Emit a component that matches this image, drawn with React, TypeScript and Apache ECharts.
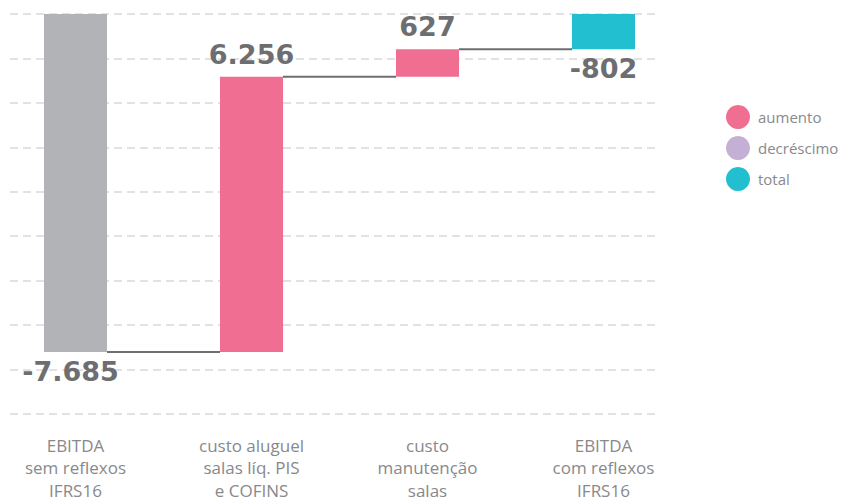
import React, { useEffect, useRef } from 'react';
import * as echarts from 'echarts';

const categories = [
  'EBITDA\nsem reflexos\nIFRS16',
  'custo aluguel\nsalas líq. PIS\ne COFINS',
  'custo\nmanutenção\nsalas',
  'EBITDA\ncom reflexos\nIFRS16',
];
const values = [-7685, 6256, 627, -802];
const kinds = ['base', 'aumento', 'aumento', 'total'];
const legendNames = ['aumento', 'decréscimo', 'total'];
const yMin = -9000;
const yMax = 0;
const yStep = 1000;

const COLORS: Record<string, string> = {
  base: '#b2b3b7',
  aumento: '#f06e91',
  'decréscimo': '#c5b0d5',
  total: '#21bfcf',
};
const TEXT_DARK = '#6d6e71';
const TEXT_LIGHT = '#88898c';
const BAR_W = 63;
const SHIFT = 20; // the chart div starts SHIFT px left of the page

function fmt(v: number) {
  const s = Math.abs(v).toString().replace(/\B(?=(\d{3})+(?!\d))/g, '.');
  return (v < 0 ? '-' : '') + s;
}

let running = 0;
const barData = values.map((v, i) => {
  const kind = kinds[i];
  let start = 0;
  let end = 0;
  if (kind === 'base') {
    start = 0; end = v; running = v;
  } else if (kind === 'total') {
    start = 0; end = running;
  } else {
    start = running; end = running + v; running = end;
  }
  return { value: [i, start, end, v], kind };
});
const connectorData = barData.slice(0, -1).map((d, i) => [i, d.value[2]]);

export default function App() {
  const ref = useRef<HTMLDivElement>(null);
  useEffect(() => {
    const chart = echarts.init(ref.current!, undefined, { renderer: 'svg' });
    const option: any = {
      animation: false,
      grid: [
        { left: 10 + SHIFT, right: 186, top: 14, bottom: 83, outerBoundsMode: 'none', containLabel: false },
        { left: -12.5 + SHIFT, right: 152.5, top: 14, bottom: 87.2, outerBoundsMode: 'none', containLabel: false },
      ],
      xAxis: [
        { gridIndex: 0, type: 'category', data: categories, show: false },
        {
          gridIndex: 1,
          type: 'category',
          data: categories,
          axisLine: { show: false },
          axisTick: { show: false },
          splitLine: { show: false },
          axisLabel: {
            interval: 0,
            margin: 24,
            color: TEXT_LIGHT,
            fontFamily: 'Open Sans',
            fontSize: 17,
            lineHeight: 22.5,
            verticalAlign: 'top',
          },
        },
      ],
      yAxis: [
        {
          gridIndex: 0,
          type: 'value',
          min: yMin,
          max: yMax,
          interval: yStep,
          axisLine: { show: false },
          axisTick: { show: false },
          axisLabel: { show: false },
          splitLine: { show: true, lineStyle: { color: '#e2e2e3', width: 2, type: [8, 5] } },
        },
        {
          gridIndex: 1,
          type: 'value',
          min: yMin,
          max: yMax,
          interval: yStep,
          show: false,
          splitLine: { show: false },
        },
      ],
      series: [
        {
          type: 'custom',
          xAxisIndex: 1,
          yAxisIndex: 1,
          data: connectorData,
          renderItem: (params: any, api: any) => {
            const i = api.value(0);
            const level = api.value(1);
            const a = api.coord([i, level]);
            const b = api.coord([i + 1, level]);
            return {
              type: 'line',
              shape: { x1: a[0] + BAR_W / 2, y1: a[1], x2: b[0] - BAR_W / 2, y2: b[1] },
              style: { stroke: TEXT_DARK, lineWidth: 2 },
            };
          },
        },
        {
          type: 'custom',
          xAxisIndex: 1,
          yAxisIndex: 1,
          data: barData,
          renderItem: (params: any, api: any) => {
            const i = api.value(0);
            const start = api.value(1);
            const end = api.value(2);
            const v = api.value(3);
            const kind = barData[params.dataIndex].kind;
            const pTop = api.coord([i, Math.max(start, end)]);
            const pBot = api.coord([i, Math.min(start, end)]);
            const x = pTop[0] - BAR_W / 2;
            const children: any[] = [
              {
                type: 'rect',
                shape: { x, y: pTop[1], width: BAR_W, height: pBot[1] - pTop[1] },
                style: { fill: COLORS[kind] },
              },
            ];
            const pos = v >= 0;
            children.push({
              type: 'text',
              x: pTop[0] + (kind === 'base' ? -5 : 0),
              y: pos ? pTop[1] - 9 : pBot[1] + 6,
              style: {
                text: fmt(v),
                fill: TEXT_DARK,
                font: 'bold 27px "DejaVu Sans"',
                textAlign: 'center',
                textVerticalAlign: pos ? 'bottom' : 'top',
              },
            });
            return { type: 'group', children };
          },
        },
      ],
      graphic: legendNames.map((name, k) => ({
        type: 'group',
        left: 726 + SHIFT,
        top: 105 + k * 31,
        children: [
          { type: 'circle', shape: { cx: 12, cy: 12, r: 12 }, style: { fill: COLORS[name] } },
          {
            type: 'text',
            x: 32,
            y: 12,
            style: {
              text: name,
              fill: TEXT_LIGHT,
              font: '15px "Open Sans"',
              textVerticalAlign: 'middle',
            },
          },
        ],
      })),
    };
    chart.setOption(option);
    return () => chart.dispose();
  }, []);
  return (
    <div
      ref={ref}
      style={{ position: 'absolute', left: -SHIFT, top: 0, width: 844 + SHIFT, height: 497 }}
    />
  );
}
